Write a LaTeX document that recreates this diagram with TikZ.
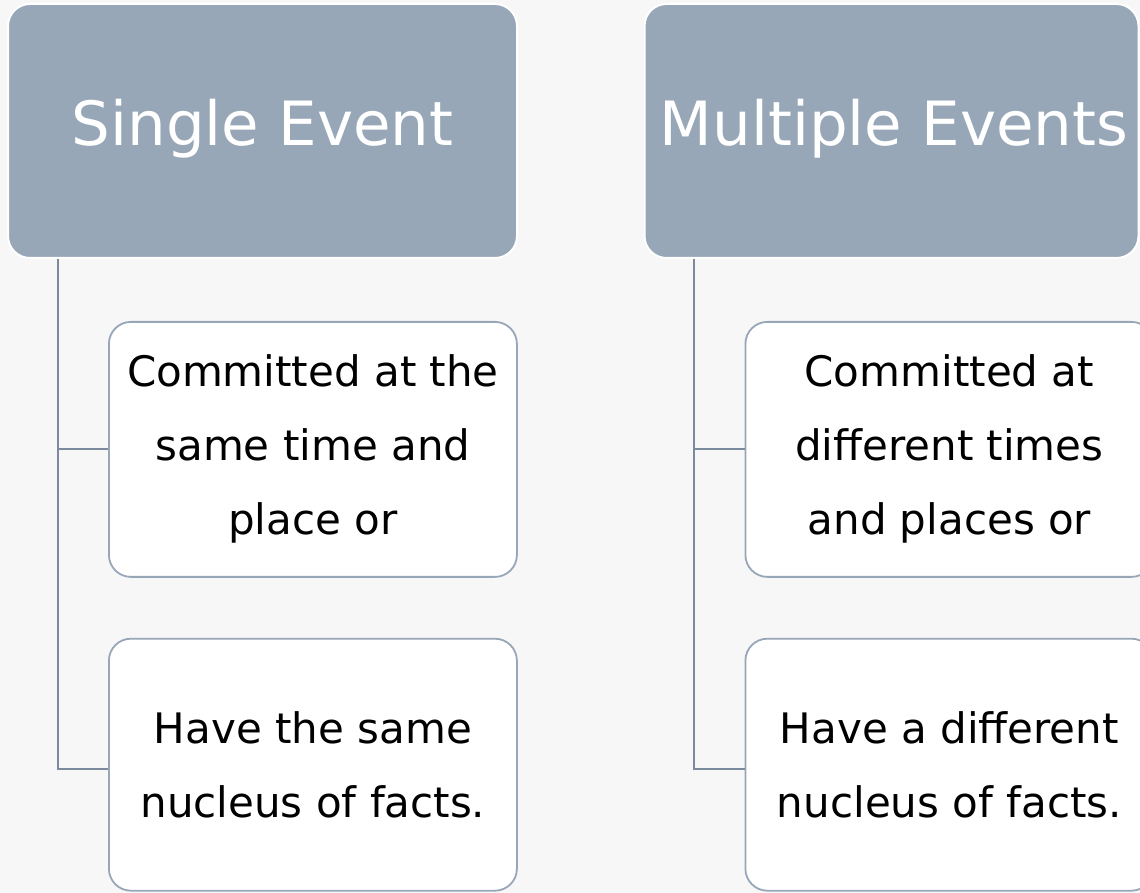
\documentclass[tikz,border=0pt]{standalone}
\usepackage{fontspec}
\setmainfont{DejaVu Sans}
\usepackage{tikz}
\usetikzlibrary{positioning}

\definecolor{pagebg}{HTML}{F7F7F7}
\definecolor{slate}{HTML}{97A7B8}
\definecolor{slateline}{HTML}{7B8A9C}

\begin{document}
\begin{tikzpicture}[
    x=1pt, y=1pt,
    head/.style={rectangle, rounded corners=22pt, draw=white, line width=2pt, fill=slate,
        minimum height=254pt, text=white, font=\fontsize{61}{72}\selectfont},
    item/.style={rectangle, rounded corners=22pt, draw=slate, line width=1.8pt, fill=white,
        minimum width=408pt, minimum height=255pt, align=center,
        font=\fontsize{42}{74}\selectfont},
    link/.style={draw=slateline, line width=2pt}
]
    % page
    \fill[pagebg] (0,0) rectangle (1140,893);
    \useasboundingbox (0,0) rectangle (1140,893);

    \node[head, minimum width=509pt] (sgl) at (262.5,762) {};
    \node[head, minimum width=494pt] (mlt) at (891.5,762) {};
    \node[text=white, font=\fontsize{61}{72}\selectfont] (sgltxt) at (262.5,764) {Single Event};
    \node[text=white, font=\fontsize{61}{72}\selectfont] (mlttxt) at (894,764) {Multiple Events};

    \node[item, below=62pt of sgl.south west, anchor=north west, xshift=101pt] (same1) {Committed at the\\same time and\\place or};
    \node[item, below=62pt of same1, minimum height=252pt, yshift=2pt] (same2) {Have the same\\nucleus of facts.};
    \node[item, below=62pt of mlt.south west, anchor=north west, xshift=101pt] (diff1) {Committed at\\different times\\and places or};
    \node[item, below=62pt of diff1, minimum height=252pt, yshift=2pt] (diff2) {Have a different\\nucleus of facts.};

    \coordinate (sglstem) at ([xshift=51pt]sgl.south west);
    \coordinate (mltstem) at ([xshift=50pt]mlt.south west);
    \draw[link] (sglstem) |- (same1.west);
    \draw[link] (sglstem) |- ([yshift=-4pt]same2.west);
    \draw[link] (mltstem) |- (diff1.west);
    \draw[link] (mltstem) |- ([yshift=-4pt]diff2.west);
\end{tikzpicture}
\end{document}
